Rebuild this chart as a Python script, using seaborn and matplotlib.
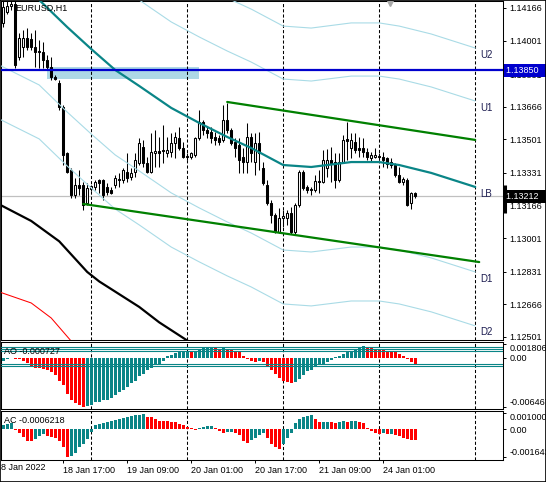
import numpy as np
import matplotlib
matplotlib.use('Agg')
import matplotlib.pyplot as plt
import matplotlib.patches as mpatches
import matplotlib.transforms as mtransforms
import seaborn as sns

# ── Settings ──────────────────────────────────────────────────────────────────
sns.set_theme(style="white")
plt.rcParams['font.family'] = ['Liberation Sans', 'DejaVu Sans']

TEAL = '#0a8587'
RED = '#ff0000'
GREEN = '#008000'
BLUE = '#0000cd'
BAND = '#a9dbe6'
LABEL_NAVY = '#1c1c50'
FS = 6.5

# ── Data (bar index 0 = 18 Jan 2022 00:00, H1) ────────────────────────────────
bars = list(range(2, 106))
opens = [1.14090, 1.14145, 1.14176, 1.14186, 1.13918, 1.13968, 1.14013, 1.14009, 1.13968, 1.13948,
         1.13943, 1.13902, 1.13867, 1.13816, 1.13786, 1.13665, 1.13432, 1.13346, 1.13219, 1.13270,
         1.13270, 1.13179, 1.13250, 1.13260, 1.13295, 1.13295, 1.13260, 1.13245, 1.13270, 1.13295,
         1.13295, 1.13336, 1.13310, 1.13336, 1.13381, 1.13462, 1.13381, 1.13336, 1.13432, 1.13442,
         1.13447, 1.13432, 1.13437, 1.13482, 1.13508, 1.13457, 1.13412, 1.13412, 1.13422, 1.13508,
         1.13589, 1.13548, 1.13538, 1.13513, 1.13508, 1.13498, 1.13599, 1.13548, 1.13487, 1.13472,
         1.13412, 1.13386, 1.13513, 1.13386, 1.13482, 1.13356, 1.13270, 1.13179, 1.13118, 1.13032,
         1.13103, 1.13103, 1.13128, 1.13032, 1.13169, 1.13336, 1.13260, 1.13250, 1.13245, 1.13290,
         1.13285, 1.13356, 1.13396, 1.13386, 1.13295, 1.13386, 1.13503, 1.13457, 1.13487, 1.13457,
         1.13457, 1.13437, 1.13407, 1.13412, 1.13417, 1.13412, 1.13407, 1.13386, 1.13371, 1.13321,
         1.13285, 1.13295, 1.13179, 1.13229]
highs = [1.14206, 1.14206, 1.14206, 1.14201, 1.14039, 1.14054, 1.14064, 1.14039, 1.14054, 1.14004,
         1.13994, 1.13928, 1.13918, 1.13827, 1.13801, 1.13675, 1.13437, 1.13356, 1.13305, 1.13346,
         1.13285, 1.13280, 1.13270, 1.13295, 1.13300, 1.13300, 1.13280, 1.13260, 1.13321, 1.13331,
         1.13356, 1.13432, 1.13356, 1.13432, 1.13508, 1.13498, 1.13412, 1.13533, 1.13548, 1.13513,
         1.13574, 1.13513, 1.13533, 1.13538, 1.13563, 1.13487, 1.13432, 1.13437, 1.13513, 1.13649,
         1.13599, 1.13563, 1.13563, 1.13538, 1.13523, 1.13675, 1.13685, 1.13558, 1.13508, 1.13508,
         1.13457, 1.13584, 1.13533, 1.13533, 1.13538, 1.13386, 1.13295, 1.13194, 1.13128, 1.13153,
         1.13143, 1.13143, 1.13159, 1.13179, 1.13346, 1.13346, 1.13270, 1.13260, 1.13321, 1.13346,
         1.13447, 1.13452, 1.13462, 1.13432, 1.13432, 1.13523, 1.13589, 1.13533, 1.13533, 1.13513,
         1.13508, 1.13457, 1.13437, 1.13457, 1.13432, 1.13437, 1.13412, 1.13407, 1.13381, 1.13361,
         1.13310, 1.13305, 1.13235, 1.13235]
lows = [1.14069, 1.14135, 1.14155, 1.13862, 1.13902, 1.13918, 1.13953, 1.13953, 1.13867, 1.13862,
        1.13862, 1.13852, 1.13801, 1.13801, 1.13650, 1.13371, 1.13331, 1.13204, 1.13204, 1.13219,
        1.13143, 1.13169, 1.13240, 1.13245, 1.13229, 1.13194, 1.13219, 1.13224, 1.13255, 1.13260,
        1.13280, 1.13285, 1.13295, 1.13310, 1.13371, 1.13361, 1.13331, 1.13331, 1.13361, 1.13361,
        1.13381, 1.13412, 1.13412, 1.13407, 1.13447, 1.13407, 1.13396, 1.13401, 1.13412, 1.13498,
        1.13523, 1.13508, 1.13482, 1.13472, 1.13472, 1.13487, 1.13533, 1.13472, 1.13412, 1.13331,
        1.13331, 1.13331, 1.13386, 1.13321, 1.13346, 1.13270, 1.13169, 1.13078, 1.13027, 1.13027,
        1.13057, 1.13068, 1.13022, 1.13022, 1.13159, 1.13245, 1.13229, 1.13219, 1.13235, 1.13229,
        1.13280, 1.13310, 1.13285, 1.13255, 1.13285, 1.13381, 1.13396, 1.13407, 1.13432, 1.13412,
        1.13412, 1.13396, 1.13386, 1.13407, 1.13396, 1.13361, 1.13356, 1.13356, 1.13310, 1.13280,
        1.13270, 1.13164, 1.13148, 1.13204]
closes = [1.14171, 1.14176, 1.14186, 1.13877, 1.14013, 1.14013, 1.13968, 1.13968, 1.13943, 1.13943,
          1.13902, 1.13867, 1.13816, 1.13806, 1.13665, 1.13422, 1.13336, 1.13219, 1.13270, 1.13255,
          1.13169, 1.13255, 1.13265, 1.13285, 1.13280, 1.13219, 1.13235, 1.13229, 1.13305, 1.13300,
          1.13346, 1.13305, 1.13331, 1.13396, 1.13482, 1.13381, 1.13336, 1.13437, 1.13442, 1.13432,
          1.13442, 1.13447, 1.13482, 1.13513, 1.13457, 1.13412, 1.13417, 1.13432, 1.13508, 1.13589,
          1.13548, 1.13533, 1.13508, 1.13498, 1.13487, 1.13599, 1.13548, 1.13482, 1.13457, 1.13396,
          1.13386, 1.13513, 1.13432, 1.13482, 1.13432, 1.13280, 1.13179, 1.13118, 1.13032, 1.13103,
          1.13113, 1.13128, 1.13032, 1.13169, 1.13336, 1.13255, 1.13245, 1.13245, 1.13290, 1.13285,
          1.13396, 1.13396, 1.13381, 1.13295, 1.13386, 1.13498, 1.13492, 1.13498, 1.13447, 1.13447,
          1.13437, 1.13412, 1.13422, 1.13422, 1.13412, 1.13396, 1.13376, 1.13371, 1.13321, 1.13285,
          1.13300, 1.13169, 1.13229, 1.13212]

# moving average (LB) and its envelope bands, extended 15 bars into the future
band_idx = [1, 11, 18, 24, 30, 36, 44, 51, 58, 64, 72, 79, 89, 96, 101, 109, 120]
ma_lb = [1.14307, 1.14206, 1.14069, 1.13958, 1.13852, 1.13771, 1.13660, 1.13584, 1.13513,
         1.13457, 1.13371, 1.13361, 1.13386, 1.13386, 1.13371, 1.13331, 1.13260]
band_u2 = [1.15011, 1.14909, 1.14773, 1.14661, 1.14555, 1.14474, 1.14363, 1.14287, 1.14216,
           1.14160, 1.14074, 1.14064, 1.14090, 1.14090, 1.14074, 1.14034, 1.13963]
band_u1 = [1.14742, 1.14641, 1.14505, 1.14393, 1.14287, 1.14206, 1.14095, 1.14019, 1.13948,
           1.13892, 1.13806, 1.13796, 1.13821, 1.13821, 1.13806, 1.13766, 1.13695]
band_d1 = [1.13877, 1.13776, 1.13639, 1.13528, 1.13422, 1.13341, 1.13230, 1.13154, 1.13083,
           1.13027, 1.12941, 1.12931, 1.12956, 1.12956, 1.12941, 1.12901, 1.12830]
band_d2 = [1.13604, 1.13503, 1.13366, 1.13255, 1.13148, 1.13068, 1.12956, 1.12881, 1.12810,
           1.12754, 1.12668, 1.12658, 1.12683, 1.12683, 1.12668, 1.12628, 1.12557]
band_names = ['U2', 'U1', 'LB', 'D1', 'D2']

# slow moving averages (black / red)
slow_idx = [1, 9, 16, 23, 26, 36, 41, 48, 52]
slow_ma = [1.13172, 1.13088, 1.12985, 1.12830, 1.12782, 1.12653, 1.12575, 1.12483, 1.12440]
slower_idx = [1, 9, 14, 19, 21]
slower_ma = [1.12729, 1.12673, 1.12597, 1.12480, 1.12440]

# channel trend lines
upper_idx = [58, 120]
upper_val = [1.13690, 1.13498]
lower_idx = [22, 121]
lower_val = [1.13174, 1.12880]

level_price = 1.13850
zone_idx = [13, 51]
zone_price = [1.13806, 1.13867]
bid_price = 1.13212
bid_marker = [1.13128, 1.13270]
shift_bar = 98.7

price_ticks = [1.14166, 1.14001, 1.13831, 1.13666, 1.13501, 1.13331, 1.13166,
               1.13001, 1.12831, 1.12666, 1.12501]
day_bars = [24, 48, 72, 96, 120]
time_ticks = [17, 33, 49, 65, 81, 97]
time_labels = ['18 Jan 17:00', '19 Jan 09:00', '20 Jan 01:00', '20 Jan 17:00',
               '21 Jan 09:00', '24 Jan 01:00']
first_label = '18 Jan 2022'

ao = [-0.00044, -0.00018, 0.00004, -0.00009, -0.00018, -0.00035, -0.00066, -0.00123, -0.00132, -0.00136,
      -0.00145, -0.00163, -0.00180, -0.00229, -0.00299, -0.00361, -0.00475, -0.00550, -0.00594, -0.00625,
      -0.006467, -0.00629, -0.00616, -0.00585, -0.00581, -0.00554, -0.00550, -0.00528, -0.00493, -0.00449,
      -0.00418, -0.00387, -0.00330, -0.00308, -0.00242, -0.00211, -0.00163, -0.00132, -0.00097, -0.00079,
      -0.00044, 0.00022, 0.00044, 0.00066, 0.00088, 0.00092, 0.00097, 0.00088, 0.00097, 0.00123,
      0.00141, 0.00145, 0.00150, 0.00141, 0.00123, 0.00128, 0.00110, 0.00106, 0.00088, 0.00079,
      0.00022, -0.00009, -0.00035, -0.00053, -0.00044, -0.00053, -0.00110, -0.00154, -0.00211, -0.00264,
      -0.00308, -0.00317, -0.00330, -0.00317, -0.00273, -0.00220, -0.00176, -0.00154, -0.00110, -0.00088,
      -0.00079, -0.00053, -0.00022, 0.00009, 0.00022, 0.00053, 0.00079, 0.00088, 0.00110, 0.00141,
      0.00154, 0.00141, 0.00132, 0.00119, 0.00117, 0.00110, 0.00088, 0.00086, 0.00084, 0.00053,
      0.00022, -0.00009, -0.00053, -0.000727]
ao_levels = [0.00141, 0.00114, 0.00088, -0.00079, -0.00110]
ao_ticks = [0.001806, 0.0, -0.006467]
ao_tick_labels = ['0.001806', '0.00', '-0.006467']

ac = [0.00024, 0.00034, 0.00036, -0.00004, -0.00020, -0.00046, -0.00065, -0.00069, -0.00059, -0.00036,
      -0.00026, -0.00036, -0.00046, -0.00050, -0.00069, -0.00105, -0.001642, -0.00158, -0.00139, -0.00105,
      -0.00085, -0.00059, -0.00016, 0.00026, 0.00034, 0.00040, 0.00044, 0.00050, 0.00057, 0.00063,
      0.00069, 0.00075, 0.00081, 0.00083, 0.00085, 0.00089, 0.00075, 0.00073, 0.00059, 0.00050,
      0.00049, 0.00048, 0.00046, 0.00044, 0.00034, 0.00026, 0.00014, 0.00006, -0.00002, 0.00008,
      0.00014, 0.00020, 0.00022, 0.00010, -0.00010, -0.00020, -0.00016, -0.00012, -0.00020, -0.00034,
      -0.00067, -0.00077, -0.00063, -0.00051, -0.00032, -0.00018, -0.00051, -0.00083, -0.00103, -0.00117,
      -0.00083, -0.00048, -0.00018, 0.00036, 0.00063, 0.00075, 0.00077, 0.00083, 0.00059, 0.00042,
      0.00044, 0.00046, 0.00042, 0.00040, 0.00042, 0.00048, 0.00042, 0.00048, 0.00050, 0.00046,
      0.00036, 0.00006, -0.00008, -0.00022, -0.00024, -0.00022, -0.00028, -0.00026, -0.00032, -0.00040,
      -0.00048, -0.00055, -0.00061, -0.0006218]
ac_ticks = [0.001000, 0.0, -0.001642]
ac_tick_labels = ['0.001000', '0.00', '-0.001642']

# ── Figure layout (MT4 style, three stacked windows) ──────────────────────────
W, H = 546, 482
fig = plt.figure(figsize=(W / 100, H / 100), dpi=100, facecolor='white')


def frac(left, top, right, bottom):
    return [left / W, 1 - bottom / H, (right - left) / W, (bottom - top) / H]


ax = fig.add_axes(frac(1, 1, 503, 340))
ax_ao = fig.add_axes(frac(1, 342, 503, 409), sharex=ax)
ax_ac = fig.add_axes(frac(1, 411, 503, 460), sharex=ax)

ax.set_xlim(1.45, 126.95)
ax.set_ylim(1.124856, 1.142009)
ax_ao.set_ylim(-0.00673, 0.00211)
ax_ac.set_ylim(-0.00180, 0.00109)

for a in (ax, ax_ao, ax_ac):
    a.set_facecolor('white')
    for s in a.spines.values():
        s.set_color('black')
        s.set_linewidth(0.75)
    a.yaxis.tick_right()
    a.tick_params(axis='y', which='both', right=True, left=False, direction='out',
                  length=2.5, width=0.7, pad=2, labelsize=FS, colors='black')
    a.tick_params(axis='x', bottom=False, labelbottom=False)
    for b in day_bars:
        a.axvline(b, color='black', lw=0.75, ls=(0, (3, 2)), zorder=2)

# ── Main window ───────────────────────────────────────────────────────────────
ax.add_patch(mpatches.Rectangle((zone_idx[0], zone_price[0]), zone_idx[1] - zone_idx[0],
                                zone_price[1] - zone_price[0], facecolor='#add8e6',
                                edgecolor='none', zorder=1))
ax.axhline(bid_price, color='#c0c0c0', lw=0.9, zorder=1.5)

x = np.array(bars)
o = np.array(opens)
c = np.array(closes)
up = c >= o
ax.vlines(x, lows, highs, color='black', lw=0.75, zorder=3)
ax.bar(x[up], (c - o)[up], bottom=o[up], width=0.55, color='white',
       edgecolor='black', linewidth=0.75, zorder=3.5)
ax.bar(x[~up], (o - c)[~up], bottom=c[~up], width=0.55, color='black',
       edgecolor='black', linewidth=0.75, zorder=3.5)

for vals in (band_u2, band_u1, band_d1, band_d2):
    sns.lineplot(x=band_idx, y=vals, ax=ax, color=BAND, linewidth=0.8, zorder=4)
sns.lineplot(x=band_idx, y=ma_lb, ax=ax, color=TEAL, linewidth=1.6, zorder=5)
sns.lineplot(x=slow_idx, y=slow_ma, ax=ax, color='black', linewidth=1.6, zorder=5)
sns.lineplot(x=slower_idx, y=slower_ma, ax=ax, color=RED, linewidth=0.75, zorder=5)
sns.lineplot(x=upper_idx, y=upper_val, ax=ax, color=GREEN, linewidth=1.6, zorder=5)
sns.lineplot(x=lower_idx, y=lower_val, ax=ax, color=GREEN, linewidth=1.6, zorder=5)
ax.axhline(level_price, color=BLUE, lw=1.6, zorder=5)

band_ends = [band_u2[-1], band_u1[-1], ma_lb[-1], band_d1[-1], band_d2[-1]]
for name, val in zip(band_names, band_ends):
    ax.text(band_idx[-1] + 1.3, val - 0.00008, name, color=LABEL_NAVY, fontsize=7,
            va='top', ha='left', zorder=6)

ax.set_yticks(price_ticks)
ax.set_yticklabels([f'{p:.5f}' for p in price_ticks])
ax.set_xlabel('')
ax.set_ylabel('')

trans = mtransforms.blended_transform_factory(ax.transAxes, ax.transData)
ax.text(1.006, level_price, '1.13850  ', transform=trans, color='white', fontsize=FS,
        va='center', ha='left', clip_on=False, zorder=10,
        bbox=dict(boxstyle='square,pad=0.25', fc=BLUE, ec='none'))
ax.text(1.006, bid_price, '1.13212  ', transform=trans, color='white', fontsize=FS,
        va='center', ha='left', clip_on=False, zorder=10,
        bbox=dict(boxstyle='square,pad=0.25', fc='black', ec='none'))
ax.plot([1.004, 1.004], bid_marker, transform=trans, color='black', lw=2.2,
        solid_capstyle='butt', clip_on=False, zorder=9)

shift_trans = mtransforms.blended_transform_factory(ax.transData, ax.transAxes)
ax.plot([shift_bar], [0.995], transform=shift_trans, marker='v', markersize=5,
        color='#a8a8a8', clip_on=False, zorder=9)

ax.text(0.028, 0.979, 'EURUSD,H1', transform=ax.transAxes, fontsize=FS,
        color='black', va='center', ha='left', zorder=8)

# ── AO window ─────────────────────────────────────────────────────────────────
def bar_colors(vals):
    cols = [TEAL]
    for prev, cur in zip(vals[:-1], vals[1:]):
        if cur > prev:
            cols.append(TEAL)
        elif cur < prev:
            cols.append(RED)
        else:
            cols.append(cols[-1])
    return cols


ax_ao.bar(bars, ao, width=0.75, color=bar_colors(ao), linewidth=0, zorder=3)
for lv in ao_levels:
    ax_ao.axhline(lv, color=TEAL, lw=0.8, zorder=4)
ax_ao.set_yticks(ao_ticks)
ax_ao.set_yticklabels(ao_tick_labels)
ao_lbls = ax_ao.get_yticklabels()
ao_lbls[0].set_verticalalignment('top')
ao_lbls[2].set_verticalalignment('bottom')
ax_ao.text(0.005, 0.865, f'AO {ao[-1]:.6f}', transform=ax_ao.transAxes, fontsize=FS,
           color='black', va='center', ha='left', zorder=8)

# ── AC window ─────────────────────────────────────────────────────────────────
ax_ac.bar(bars, ac, width=0.75, color=bar_colors(ac), linewidth=0, zorder=3)
ax_ac.set_yticks(ac_ticks)
ax_ac.set_yticklabels(ac_tick_labels)
ac_lbls = ax_ac.get_yticklabels()
ac_lbls[0].set_verticalalignment('top')
ac_lbls[2].set_verticalalignment('bottom')
ax_ac.text(0.005, 0.816, f'AC {ac[-1]:.7f}', transform=ax_ac.transAxes, fontsize=FS,
           color='black', va='center', ha='left', zorder=8)

ax_ac.set_xticks(time_ticks)
ax_ac.set_xticklabels(time_labels)
ax_ac.tick_params(axis='x', bottom=True, labelbottom=True, direction='out', length=2.5,
                  width=0.7, pad=2, labelsize=FS, colors='black')
for lbl in ax_ac.get_xticklabels():
    lbl.set_horizontalalignment('left')
time_trans = mtransforms.blended_transform_factory(ax_ac.transData, ax_ac.transAxes)
ax_ac.text(0.2, -0.06, first_label, transform=time_trans, fontsize=FS, color='black',
           va='top', ha='left', clip_on=False)

fig.patches.append(mpatches.Rectangle((0, 0), 1, 1, transform=fig.transFigure,
                                      fill=False, edgecolor='black', linewidth=1.2))

fig.savefig('out.png', dpi=100, facecolor='white')
